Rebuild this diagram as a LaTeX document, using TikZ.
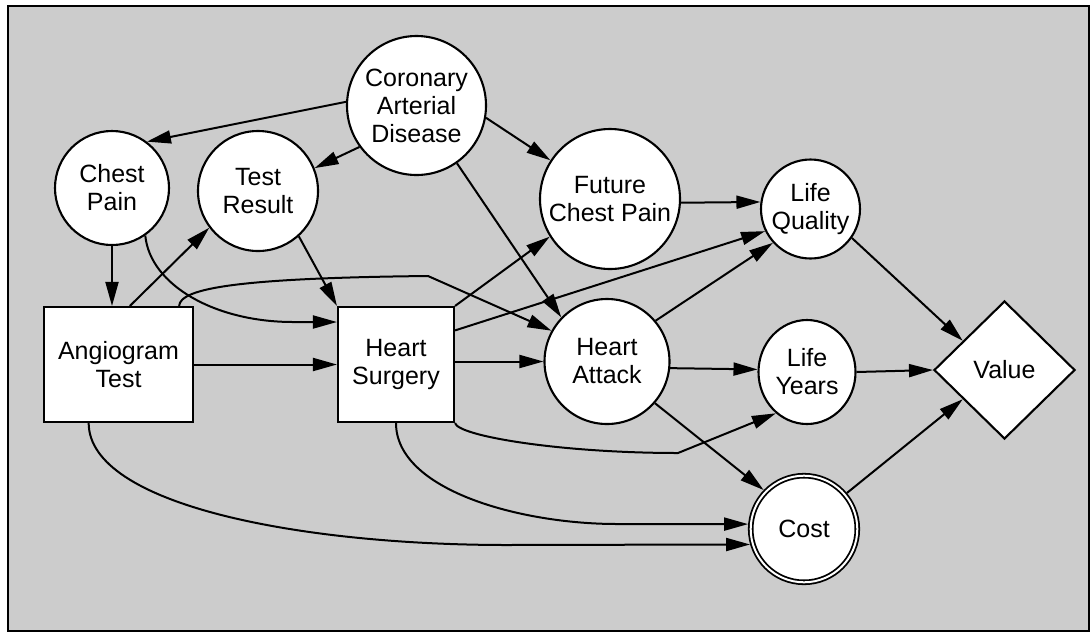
\documentclass[tikz,border=0pt]{standalone}
\usepackage{fontspec}
\setmainfont{Liberation Sans}
\usetikzlibrary{arrows.meta,shapes.geometric}
\definecolor{bggray}{HTML}{CCCCCC}
\newcommand{\lblfont}{\fontsize{25}{28}\selectfont}
\begin{document}
\begin{tikzpicture}[x=1pt,y=-1pt,
  chance/.style={circle, draw, fill=white, line width=2.1pt, inner sep=0pt, align=center, font=\lblfont},
  decision/.style={rectangle, draw, fill=white, line width=2.1pt, inner sep=0pt, align=center, font=\lblfont},
  utility/.style={diamond, draw, fill=white, line width=2.1pt, inner sep=0pt, align=center, font=\lblfont},
  edge/.style={line width=2pt, -{Triangle[length=24pt,width=13pt]}}]

% canvas
\useasboundingbox (0,0) rectangle (1090,633);
\draw[line width=2pt, fill=bggray] (8.3,6.3) rectangle (1088.5,631.2);

% chance nodes
\node[chance, minimum size=139pt] (cad) at (416.5,105.5) {Coronary\\Arterial\\Disease};
\node[chance, minimum size=114pt] (cp)  at (112,188) {Chest\\Pain};
\node[chance, minimum size=120pt] (tr)  at (258,191) {Test\\Result};
\node[chance, minimum size=140pt] (fcp) at (610,199) {Future\\Chest Pain};
\node[chance, minimum size=99pt]  (lq)  at (810.5,209) {Life\\Quality};
\node[chance, minimum size=125pt] (ha)  at (607,361.5) {Heart\\Attack};
\node[ellipse, draw, fill=white, line width=2.1pt, inner sep=0pt, align=center, font=\lblfont,
      minimum width=97pt, minimum height=104pt] (ly) at (807,372) {Life\\Years};
\node[chance, minimum size=106.6pt, line width=1.8pt, double, double distance=2pt, outer sep=2.8pt]
      (cost) at (804,529) {Cost};

% decisions
\node[decision, minimum width=149pt, minimum height=115pt] (ang) at (118.5,364.5) {Angiogram\\Test};
\node[decision, minimum width=116pt, minimum height=115pt] (hs)  at (396,364.5) {Heart\\Surgery};

% value
\node[utility, minimum width=141pt, minimum height=138pt] (val) at (1004.5,370) {Value};

% bend points of the routed connectors
\coordinate (k1) at (293,322);
\coordinate (k2) at (428,276);
\coordinate (k3) at (678,453);
\coordinate (k4) at (617,524);
\coordinate (k5) at (507,545);

% straight connectors
\draw[edge] (cad.177) -- (cp.53);
\draw[edge] (cad.216) -- (tr.22);
\draw[edge] (cad.350) -- (fcp.147);
\draw[edge] (cad.305) -- (ha.136);
\draw[edge] (cp.south) -- (cp.south |- ang.north);
\draw[edge] (ang.79) -- (tr.217);
\draw[edge] (tr.312) -- (hs.north west);
\draw[edge] (ang.east) -- (hs.west);
\draw[edge] (hs.north east) -- (fcp.212);
\draw[edge] (hs.30) -- (lq.206);
\draw[edge] (hs.east |- ha.west) -- (ha.west);
\draw[edge] (fcp.357.5) -- (lq.172);
\draw[edge] (ha.40) -- (lq.222);
\draw[edge] (ha.354) -- (ly.177);
\draw[edge] (ha.319) -- (cost.136);
\draw[edge] (lq.325) -- (val.145);
\draw[edge] (ly.east) -- (val.west);
\draw[edge] (cost.40) -- (val.215);

% curved connectors
\draw[edge] (cp.305) .. controls (150,285) and (215,322) .. (k1) -- (hs.west |- k1);
\draw[edge] (ang.44.5) .. controls (180,288) and (240,278) .. (k2) -- (ha.151);
\draw[edge] (hs.south east) .. controls (458,436) and (560,453) .. (k3) -- (ly.233);
\draw[edge] (hs.south) .. controls (396,490) and (520,524) .. (k4) -- (cost.175);
\draw[edge] (ang.243) .. controls (89,505) and (300,545) .. (k5) -- (cost.196);
\end{tikzpicture}
\end{document}
